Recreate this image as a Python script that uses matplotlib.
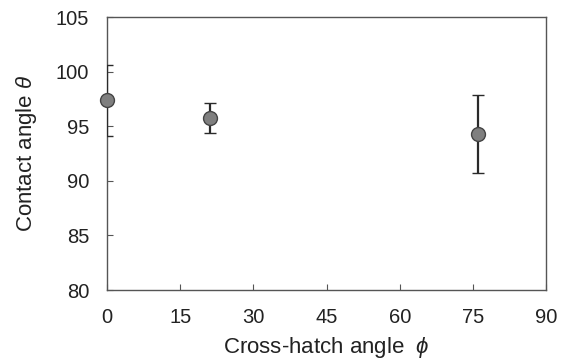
import matplotlib
matplotlib.use("Agg")
import matplotlib.pyplot as plt

plt.rcParams['font.family'] = ['Liberation Sans', 'DejaVu Sans']
plt.rcParams['mathtext.fontset'] = 'custom'
plt.rcParams['mathtext.it'] = 'Liberation Sans:italic'
plt.rcParams['mathtext.rm'] = 'Liberation Sans'

angles = [0, 21, 76]
contact = [97.4, 95.8, 94.3]
err_low = [3.3, 1.4, 3.6]
err_high = [3.2, 1.35, 3.6]

xticks = [0, 15, 30, 45, 60, 75, 90]
yticks = [80, 85, 90, 95, 100, 105]

fig = plt.figure(figsize=(5.7, 3.63), dpi=100)
ax = fig.add_axes([0.188, 0.201, 0.770, 0.752])

cont = ax.errorbar(angles, contact, yerr=[err_low, err_high], fmt='o', color='#2a2a2a',
                   ecolor='#2a2a2a', elinewidth=1.6, capsize=4.5, capthick=1.6,
                   markersize=10, markerfacecolor='#7f7f7f', markeredgecolor='#444444',
                   markeredgewidth=1.0, zorder=3)
cont[0].set_clip_on(False)

ax.set_xlim(0, 90)
ax.set_ylim(80, 105)
ax.set_xticks(xticks)
ax.set_yticks(yticks)
ax.tick_params(direction='in', length=4, width=0.8, colors='#555555',
               labelcolor='#222222', labelsize=14.5)
ax.tick_params(axis='x', pad=13)
ax.tick_params(axis='y', pad=13)
for s in ax.spines.values():
    s.set_color('#555555')
    s.set_linewidth(1.0)

ax.set_xlabel(r'Cross-hatch angle  $\phi$', fontsize=16, color='#222222', labelpad=6)
ax.set_ylabel(r'Contact angle $\theta$', fontsize=16, color='#222222', labelpad=12)

fig.savefig('out.png', dpi=100)
